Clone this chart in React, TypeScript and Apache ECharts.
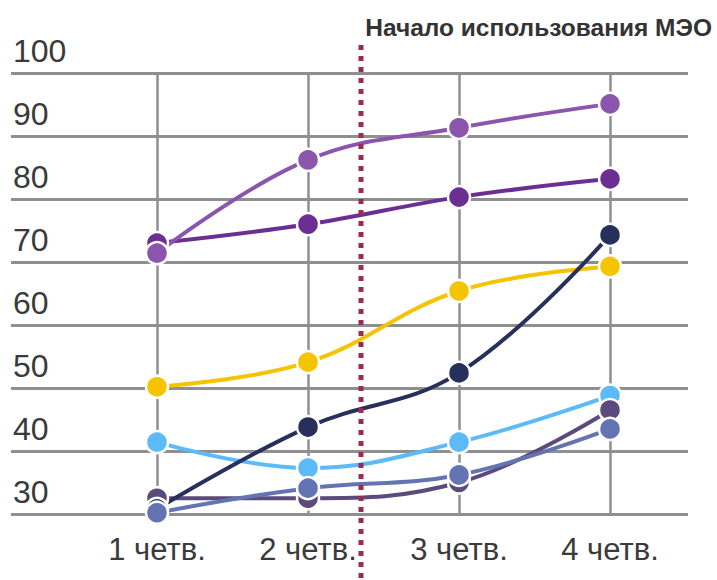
import React, { useEffect, useRef } from "react";
import * as echarts from "echarts";

const categories = ["1 четв.", "2 четв.", "3 четв.", "4 четв."];
const yTicks = [30, 40, 50, 60, 70, 80, 90, 100];

const yellowValues = [50.2, 54.1, 65.4, 69.3];
const lightBlueValues = [41.4, 37.3, 41.4, 48.8];
const mutedValues = [32.5, 32.5, 35.0, 46.5];
const navyValues = [30.8, 43.8, 52.4, 74.3];
const slateValues = [30.2, 34.1, 36.2, 43.5];
const darkPurpleValues = [73.0, 76.0, 80.3, 83.2];
const lightPurpleValues = [71.4, 86.2, 91.3, 95.1];

const titleText = "Начало использования МЭО";

const FONT = '"Liberation Sans", Arial, sans-serif';

export default function App() {
  const ref = useRef<HTMLDivElement>(null);
  useEffect(() => {
    if (!ref.current) return;
    const chart = echarts.init(ref.current, undefined, { renderer: "svg" });
    const mk = (name: string, data: number[], color: string) => ({
      name,
      type: "line",
      xAxisIndex: 1,
      yAxisIndex: 1,
      data,
      smooth: 0.4,
      symbol: "circle",
      symbolSize: 22,
      lineStyle: { color, width: 4 },
      itemStyle: { color, borderColor: "#ffffff", borderWidth: 2.5 },
      emphasis: { disabled: true },
    });
    const option: any = {
      animation: false,
      backgroundColor: "#ffffff",
      grid: [
        { left: 11, right: 29, top: 73, bottom: 66 },
        { left: 157, right: 107, top: 73, bottom: 66 },
      ],
      xAxis: [
        {
          gridIndex: 0,
          type: "value",
          min: 0,
          max: 1,
          show: false,
        },
        {
          gridIndex: 1,
          type: "category",
          data: categories,
          boundaryGap: false,
          axisLine: { show: false },
          axisTick: { show: false },
          axisLabel: {
            margin: 20,
            fontFamily: FONT,
            fontSize: 31,
            color: "#3a3a3a",
          },
          splitLine: { show: true, lineStyle: { color: "#8f8f8f", width: 2.5 } },
        },
      ],
      yAxis: [
        {
          gridIndex: 0,
          type: "value",
          min: yTicks[0],
          max: yTicks[yTicks.length - 1],
          interval: 10,
          axisLine: { show: false },
          axisTick: { show: false },
          axisLabel: {
            inside: true,
            margin: 2,
            align: "left",
            verticalAlign: "bottom",
            padding: [0, 0, 6, 0],
            fontFamily: FONT,
            fontSize: 32,
            lineHeight: 33,
            color: "#3a3a3a",
          },
          splitLine: { show: true, lineStyle: { color: "#8f8f8f", width: 3 } },
        },
        {
          gridIndex: 1,
          type: "value",
          min: yTicks[0],
          max: yTicks[yTicks.length - 1],
          interval: 10,
          show: false,
          splitLine: { show: false },
        },
      ],
      graphic: [
        {
          type: "line",
          shape: { x1: 361, y1: 45, x2: 361, y2: 580 },
          style: { stroke: "#9c2b50", lineWidth: 5, lineDash: [5, 6] },
          z: 10,
        },
        {
          type: "text",
          x: 712,
          y: 27,
          style: {
            text: titleText,
            textAlign: "right",
            textVerticalAlign: "middle",
            font: `bold 24.5px ${FONT}`,
            fill: "#333333",
          },
        },
      ],
      series: [
        mk("yellow", yellowValues, "#f5c400"),
        mk("lightBlue", lightBlueValues, "#5bbaf7"),
        mk("muted", mutedValues, "#5b4b7c"),
        mk("navy", navyValues, "#26305a"),
        mk("slate", slateValues, "#6474b2"),
        mk("darkPurple", darkPurpleValues, "#6b2f94"),
        mk("lightPurple", lightPurpleValues, "#8b55ae"),
      ],
    };
    chart.setOption(option);
    return () => chart.dispose();
  }, []);
  return (
    <div
      ref={ref}
      style={{ position: "absolute", left: 0, top: 0, width: 717, height: 580 }}
    />
  );
}
